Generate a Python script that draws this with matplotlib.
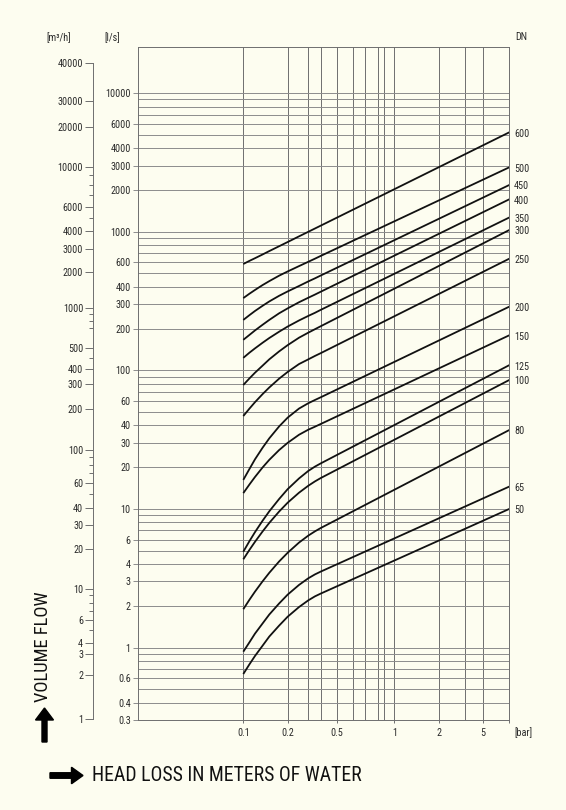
import numpy as np
import matplotlib
matplotlib.use("Agg")
import matplotlib.pyplot as plt
from matplotlib import font_manager
from matplotlib.patches import FancyArrow
from matplotlib.ticker import FixedLocator, NullFormatter

# head loss sample points [bar]
head_loss = [0.1, 0.11, 0.12, 0.135, 0.15, 0.175, 0.2, 0.25, 0.3, 0.35, 0.4, 8.0]

# volume flow [l/s] per nominal diameter DN
dn_sizes = [600, 500, 450, 400, 350, 300, 250, 200, 150, 125, 100, 80, 65, 50]
flow_600 = [585, 616, 644, 685, 725, 786, 843, 926, 999, 1055, 1106, 5216]
flow_500 = [332, 357, 380, 412, 440, 482, 517, 565, 607, 639, 669, 2916]
flow_450 = [231, 250, 268, 292, 314, 345, 371, 406, 438, 461, 483, 2174]
flow_400 = [166, 180, 194, 213, 231, 258, 280, 310, 334, 352, 369, 1714]
flow_350 = [123, 134, 144, 158, 171, 190, 207, 229, 247, 260, 273, 1267]
flow_300 = [78.4, 87.4, 96.1, 108, 120, 137, 152, 172, 187, 198, 208, 1029]
flow_250 = [46.8, 52.9, 58.9, 67.3, 75.2, 87.1, 97.4, 111, 120, 127, 133, 639]
flow_200 = [16.2, 19.4, 22.8, 27.6, 32.3, 39.4, 45.6, 53.0, 57.9, 61.1, 63.9, 288]
flow_150 = [13.0, 15.0, 17.0, 19.9, 22.6, 26.6, 30.0, 34.3, 37.3, 39.2, 41.0, 179]
flow_125 = [4.91, 5.85, 6.80, 8.21, 9.61, 11.8, 13.9, 16.6, 18.8, 20.2, 21.3, 109]
flow_100 = [4.33, 5.06, 5.79, 6.87, 7.93, 9.58, 11.1, 13.1, 14.7, 15.8, 16.7, 85.2]
flow_80 = [1.89, 2.21, 2.53, 3.00, 3.46, 4.18, 4.83, 5.72, 6.42, 6.89, 7.28, 37.1]
flow_65 = [0.933, 1.09, 1.26, 1.49, 1.73, 2.08, 2.41, 2.83, 3.16, 3.37, 3.53, 14.5]
flow_50 = [0.644, 0.756, 0.869, 1.03, 1.20, 1.44, 1.67, 1.96, 2.19, 2.34, 2.45, 10.0]
flows = [flow_600, flow_500, flow_450, flow_400, flow_350, flow_300, flow_250,
         flow_200, flow_150, flow_125, flow_100, flow_80, flow_65, flow_50]

# axis ticks
x_major = [0.1, 0.2, 0.5, 1, 2, 5, 8]
x_major_labels = ['0.1', '0.2', '0.5', '1', '2', '5', '']
x_minor = [0.3, 0.4, 0.6, 0.7, 0.8, 0.9, 3]

ls_major = [0.3, 0.4, 0.6, 1, 2, 3, 4, 6, 10, 20, 30, 40, 60, 100, 200, 300,
            400, 600, 1000, 2000, 3000, 4000, 6000, 10000]
ls_labels = ['0.3', '0.4', '0.6', '1', '2', '3', '4', '6', '10', '20', '30', '40',
             '60', '100', '200', '300', '400', '600', '1000', '2000', '3000',
             '4000', '6000', '10000']
ls_minor = [0.5, 0.7, 0.8, 0.9, 5, 7, 8, 9, 50, 70, 80, 90, 500, 700, 800, 900,
            5000, 7000, 8000, 9000]

mh_major = [1, 2, 3, 4, 6, 10, 20, 30, 40, 60, 100, 200, 300, 400, 500, 1000,
            2000, 3000, 4000, 6000, 10000, 20000, 30000, 40000]
mh_minor = [5, 7, 8, 9, 50, 70, 80, 90, 450, 700, 800, 900, 5000, 7000, 8000, 9000]

# the printed scales are not cleanly logarithmic: anchor values -> pixel position
x_anchor_vals = [0.02, 0.1, 0.2, 0.3, 0.4, 0.5, 0.6, 0.7, 0.8, 0.9, 1, 2, 3, 5, 8]
x_anchor_px = [138, 243.3, 287.7, 308.3, 320.7, 336.7, 352.7, 365.0, 377.7,
               384.3, 394.3, 438.7, 465.3, 483.0, 509.3]
mh_anchor_vals = [0.98] + mh_major + [60000]
mh_anchor_px = [720, 719.3, 675, 654.3, 643.3, 620, 589, 549.3, 525, 507.7, 483.3,
                450, 409, 384, 369, 347.7, 307.7, 272, 248.7, 231, 206.7, 167.3,
                127.3, 100.7, 63.3, 47.3]

x_logs = np.log10(x_anchor_vals)
mh_logs = np.log10(mh_anchor_vals)


def fwd_x(v):
    return np.interp(np.log10(np.clip(v, 1e-9, None)), x_logs, x_anchor_px)


def inv_x(p):
    return 10 ** np.interp(p, x_anchor_px, x_logs)


def fwd_mh(v):
    return -np.interp(np.log10(np.clip(v, 1e-9, None)), mh_logs, mh_anchor_px)


def inv_mh(p):
    return 10 ** np.interp(-np.asarray(p), mh_anchor_px[::-1], mh_logs[::-1])


# pick the narrowest sans that is installed
fonts = font_manager.fontManager.ttflist


def has_font(name, stretch=None):
    return any(f.name == name and (stretch is None or f.stretch == stretch) for f in fonts)


if has_font('Roboto Condensed'):
    family, stretch, small, big = 'Roboto Condensed', 'normal', 7.3, 13.5
elif has_font('Liberation Sans Narrow'):
    family, stretch, small, big = 'Liberation Sans Narrow', 'normal', 7.5, 13.5
elif has_font('DejaVu Sans', 'condensed'):
    family, stretch, small, big = 'DejaVu Sans', 'condensed', 7.0, 12.5
else:
    family, stretch, small, big = 'Roboto', 'normal', 6.8, 12.0
plt.rcParams['font.family'] = [family, 'DejaVu Sans']
plt.rcParams['font.stretch'] = stretch

bg = '#fdfdf0'
grid_v = '#6e6e6e'
grid_h = '#8c8c8c'
txt = '#2a2a2a'

W, H = 566, 810
fig = plt.figure(figsize=(W / 100, H / 100), dpi=100, facecolor=bg)
ax = fig.add_axes([138 / W, 1 - 720 / H, (509.3 - 138) / W, (720 - 47.3) / H])
ax.set_facecolor(bg)

ax.set_xscale('function', functions=(fwd_x, inv_x))
ax.set_xlim(0.02, 8)
ax.set_yscale('log')
ax.set_ylim(0.3, 21410)

ax.xaxis.set_major_locator(FixedLocator(x_major))
ax.xaxis.set_minor_locator(FixedLocator(x_minor))
ax.set_xticklabels(x_major_labels)
ax.xaxis.set_minor_formatter(NullFormatter())
ax.yaxis.set_major_locator(FixedLocator(ls_major))
ax.yaxis.set_minor_locator(FixedLocator(ls_minor))
ax.set_yticklabels(ls_labels)
ax.yaxis.set_minor_formatter(NullFormatter())

ax.grid(True, which='both', axis='x', color=grid_v, lw=0.7)
ax.grid(True, which='both', axis='y', color=grid_h, lw=0.7)
ax.set_axisbelow(True)
ax.tick_params(axis='x', which='major', length=2, width=0.7, color=grid_v,
               pad=4, labelsize=small, labelcolor=txt)
ax.tick_params(axis='y', which='major', length=3.6, width=0.7, color=grid_h,
               pad=1.7, labelsize=small, labelcolor=txt)
ax.tick_params(which='minor', length=0)
for sp in ax.spines.values():
    sp.set_color(grid_v)
    sp.set_linewidth(0.7)

for dn, q in zip(dn_sizes, flows):
    ax.plot(head_loss, q, color='#111111', lw=1.3, solid_capstyle='butt')
    ax.annotate(str(dn), (head_loss[-1], q[-1]), xytext=(3.5, -1),
                textcoords='offset points', ha='left', va='center',
                fontsize=small, color=txt, annotation_clip=False)

# second flow axis in m3/h
ax2 = ax.twinx()
ax2.set_yscale('function', functions=(fwd_mh, inv_mh))
ax2.set_ylim(0.98, 60000)
for side in ['right', 'top', 'bottom']:
    ax2.spines[side].set_visible(False)
ax2.spines['left'].set_visible(True)
ax2.spines['left'].set_position(('axes', (93.3 - 138) / (509.3 - 138)))
ax2.spines['left'].set_bounds(1, 40000)
ax2.spines['left'].set_color(grid_v)
ax2.spines['left'].set_linewidth(0.7)
ax2.yaxis.tick_left()
ax2.yaxis.set_major_locator(FixedLocator(mh_major))
ax2.set_yticklabels([str(v) for v in mh_major])
ax2.yaxis.set_minor_locator(FixedLocator(mh_minor))
ax2.yaxis.set_minor_formatter(NullFormatter())
ax2.tick_params(axis='y', which='major', length=5.8, width=0.7, color=grid_v,
                pad=1.5, labelsize=small, labelcolor=txt)
ax2.tick_params(axis='y', which='minor', length=2.6, width=0.7, color=grid_v)


def fpos(x, y):
    return x / W, 1 - y / H


fig.text(*fpos(59, 37.5), '[m³/h]', ha='center', va='center', fontsize=small, color=txt)
fig.text(*fpos(112, 37.5), '[l/s]', ha='center', va='center', fontsize=small, color=txt)
fig.text(*fpos(521.7, 37), 'DN', ha='center', va='center', fontsize=small, color=txt)
fig.text(*fpos(523, 733), '[bar]', ha='center', va='center', fontsize=small, color=txt)

fig.text(*fpos(43.5, 646.5), 'VOLUME FLOW', rotation=90, ha='center', va='center',
         fontsize=big - 0.2, color='#111111')
fig.text(*fpos(92, 775.5), 'HEAD LOSS IN METERS OF WATER', ha='left', va='center',
         fontsize=big + 0.7, color='#111111')

# big black arrows next to the axis titles
up_arrow = FancyArrow(0.445, 0.68, 0, 0.34, width=0.05, head_width=0.18,
                      head_length=0.12, length_includes_head=True, color='black',
                      transform=fig.dpi_scale_trans)
right_arrow = FancyArrow(0.50, 0.345, 0.33, 0, width=0.055, head_width=0.165,
                         head_length=0.115, length_includes_head=True, color='black',
                         transform=fig.dpi_scale_trans)
fig.add_artist(up_arrow)
fig.add_artist(right_arrow)

fig.savefig('out.png', dpi=100, facecolor=bg)
